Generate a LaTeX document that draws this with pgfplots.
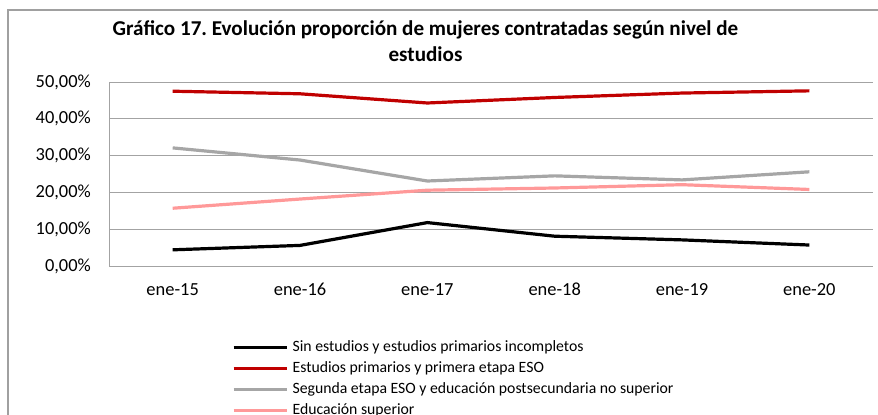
\documentclass[border=0pt]{standalone}
\usepackage{pgfplots}
\pgfplotsset{compat=1.18}
\usepackage{fontspec}
\setmainfont{Carlito}
\frenchspacing
\definecolor{cred}{HTML}{C00000}
\definecolor{cgray}{HTML}{A6A6A6}
\definecolor{cpink}{HTML}{FF9999}
\definecolor{gridc}{HTML}{A3A3A3}
\definecolor{framec}{HTML}{A0A0A0}
\begin{document}
\begin{tikzpicture}[x=1bp,y=1bp]
\draw[framec, line width=1.2bp] (1000,-10) -- (8,-10) -- (8,-1000);
\node[anchor=base, font=\bfseries\fontsize{21.2}{24}\selectfont] at (425.5,-35) {Gráfico 17. Evolución proporción de mujeres contratadas según nivel de};
\node[anchor=base, font=\bfseries\fontsize{21.2}{24}\selectfont] at (425.5,-61) {estudios};
\begin{axis}[
  at={(109bp,-266bp)}, anchor=south west,
  scale only axis, width=764bp, height=184bp,
  xmin=-0.5, xmax=5.5, ymin=0, ymax=50,
  xtick={0,1,2,3,4,5},
  xticklabels={ene-15,ene-16,ene-17,ene-18,ene-19,ene-20},
  ytick={0,10,20,30,40,50},
  yticklabel={\pgfmathprintnumber[fixed,fixed zerofill,precision=2,use comma]{\tick}\%},
  /pgf/number format/assume math mode=true,
  axis x line=bottom, axis y line=left,
  axis line style={-, draw=gridc, line width=1bp},
  ymajorgrids, grid style={gridc, line width=1bp},
  major tick length=0pt,
  tick label style={font=\fontsize{18.5}{22}\selectfont, inner sep=0pt},
  yticklabel style={anchor=east, xshift=-18bp},
  xticklabel style={anchor=north, yshift=-17bp},
  legend style={draw=none, fill=none, inner sep=0pt, at={(0.161,-0.3967)}, anchor=north west,
    font=\fontsize{15.8}{18}\selectfont, row sep=5bp, column sep=4.7bp,
    nodes={inner sep=0pt, text height=12bp, text depth=4bp}},
  legend cell align=left,
  legend image code/.code={\draw[#1, line width=2.7bp] (0bp,0bp) -- (53bp,0bp);},
]
\addplot[black, line width=3.2bp] coordinates {(0,4.4) (1,5.6) (2,11.8) (3,8.1) (4,7.1) (5,5.7)};
\addlegendentry{Sin estudios y estudios primarios incompletos}
\addplot[cred, line width=3.2bp] coordinates {(0,47.5) (1,46.8) (2,44.3) (3,45.8) (4,47.0) (5,47.6)};
\addlegendentry{Estudios primarios y primera etapa ESO}
\addplot[cgray, line width=3.2bp] coordinates {(0,32.1) (1,28.8) (2,23.1) (3,24.5) (4,23.4) (5,25.6)};
\addlegendentry{Segunda etapa ESO y educación postsecundaria no superior}
\addplot[cpink, line width=3.2bp] coordinates {(0,15.7) (1,18.2) (2,20.6) (3,21.2) (4,22.1) (5,20.8)};
\addlegendentry{Educación superior}
\end{axis}
\pgfresetboundingbox
\path[use as bounding box] (0,0) rectangle (878,-414);
\end{tikzpicture}
\end{document}
